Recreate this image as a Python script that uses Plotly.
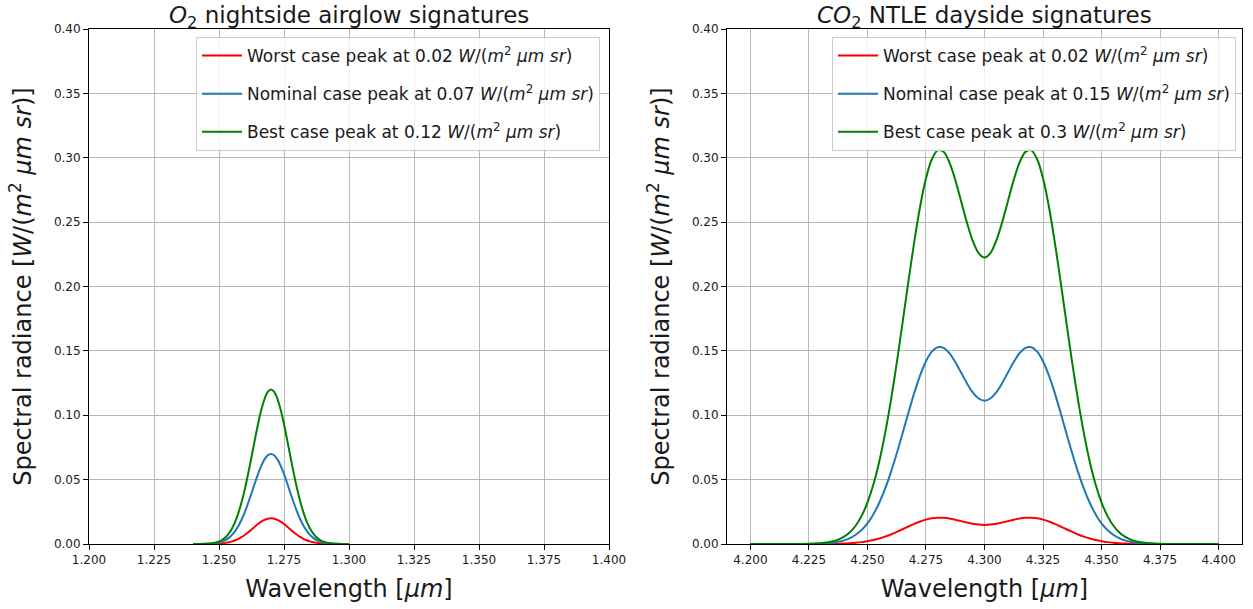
import plotly.graph_objects as go

# O2 airglow band around 1.27 um
o2_wavelength = [1.24, 1.2425, 1.245, 1.2475, 1.25, 1.25125, 1.2525, 1.25375, 1.255, 1.25625,
                 1.2575, 1.25875, 1.26, 1.26125, 1.2625, 1.26375, 1.265, 1.26625, 1.2675, 1.26875,
                 1.27, 1.27125, 1.2725, 1.27375, 1.275, 1.27625, 1.2775, 1.27875, 1.28, 1.28125,
                 1.2825, 1.28375, 1.285, 1.28625, 1.2875, 1.28875, 1.29, 1.2925, 1.295, 1.2975,
                 1.30]
o2_worst = [0.0, 0.00001, 0.00003, 0.00011, 0.00034, 0.00055, 0.00088, 0.00135, 0.00201, 0.00291,
            0.00406, 0.0055, 0.00721, 0.00916, 0.01127, 0.01343, 0.0155, 0.01733, 0.01876, 0.01968,
            0.0200, 0.01968, 0.01876, 0.01733, 0.0155, 0.01343, 0.01127, 0.00916, 0.00721, 0.0055,
            0.00406, 0.00291, 0.00201, 0.00135, 0.00088, 0.00055, 0.00034, 0.00011, 0.00003, 0.00001,
            0.0]
o2_nominal = [0.00001, 0.00003, 0.00012, 0.00040, 0.00118, 0.00194, 0.00308, 0.00473, 0.00705, 0.01017,
              0.0142, 0.01924, 0.0252, 0.03205, 0.0394, 0.04699, 0.0542, 0.06064, 0.0657, 0.06889,
              0.0700, 0.06889, 0.0657, 0.06064, 0.0542, 0.04699, 0.0394, 0.03205, 0.0252, 0.01924,
              0.0142, 0.01017, 0.00705, 0.00473, 0.00308, 0.00194, 0.00118, 0.00040, 0.00012, 0.00003,
              0.00001]
o2_best = [0.00001, 0.00005, 0.0002, 0.00069, 0.00202, 0.00332, 0.00527, 0.00811, 0.0121, 0.01744,
           0.0244, 0.03299, 0.0432, 0.05494, 0.0676, 0.08056, 0.0930, 0.1040, 0.1126, 0.1181,
           0.1200, 0.1181, 0.1126, 0.1040, 0.0930, 0.08056, 0.0676, 0.05494, 0.0432, 0.03299,
           0.0244, 0.01744, 0.0121, 0.00811, 0.00527, 0.00332, 0.00202, 0.00069, 0.0002, 0.00005,
           0.00001]

# CO2 non-LTE emission around 4.3 um (double-peaked)
co2_wavelength = [4.200, 4.205, 4.210, 4.215, 4.220, 4.225, 4.230, 4.2325, 4.235, 4.2375,
                  4.240, 4.2425, 4.245, 4.2475, 4.250, 4.2525, 4.255, 4.2575, 4.260, 4.2625,
                  4.265, 4.2675, 4.270, 4.2725, 4.275, 4.2775, 4.280, 4.2825, 4.285, 4.2875,
                  4.290, 4.2925, 4.295, 4.2975, 4.300, 4.3025, 4.305, 4.3075, 4.310, 4.3125,
                  4.315, 4.3175, 4.320, 4.3225, 4.325, 4.3275, 4.330, 4.3325, 4.335, 4.3375,
                  4.340, 4.3425, 4.345, 4.3475, 4.350, 4.3525, 4.355, 4.3575, 4.360, 4.3625,
                  4.365, 4.3675, 4.370, 4.375, 4.380, 4.385, 4.390, 4.395, 4.400]
co2_worst = [0, 0, 0, 0, 0, 0.00001, 0.00004, 0.00007, 0.00013, 0.00023,
             0.00038, 0.00061, 0.00096, 0.00146, 0.00215, 0.00307, 0.00425, 0.00570, 0.00742, 0.00937,
             0.01146, 0.01360, 0.01565, 0.01747, 0.01893, 0.01992, 0.02038, 0.02030, 0.01976, 0.01885,
             0.01775, 0.01664, 0.01569, 0.01506, 0.01484, 0.01506, 0.01569, 0.01664, 0.01775, 0.01885,
             0.01976, 0.02030, 0.02038, 0.01992, 0.01893, 0.01747, 0.01565, 0.01360, 0.01146, 0.00937,
             0.00742, 0.00570, 0.00425, 0.00307, 0.00215, 0.00146, 0.00096, 0.00061, 0.00038, 0.00023,
             0.00013, 0.00007, 0.00004, 0.00001, 0, 0, 0, 0, 0]
co2_nominal = [0, 0, 0, 0, 0.00002, 0.00008, 0.00030, 0.00056, 0.00099, 0.00170,
               0.00284, 0.00459, 0.00719, 0.01093, 0.01610, 0.02300, 0.03185, 0.04277, 0.05565, 0.07025,
               0.08595, 0.1020, 0.1174, 0.1310, 0.1420, 0.1494, 0.1528, 0.1523, 0.1482, 0.1414,
               0.1332, 0.1248, 0.1177, 0.1130, 0.1113, 0.1130, 0.1177, 0.1248, 0.1332, 0.1414,
               0.1482, 0.1523, 0.1528, 0.1494, 0.1420, 0.1310, 0.1174, 0.1020, 0.08595, 0.07025,
               0.05565, 0.04277, 0.03185, 0.02300, 0.01610, 0.01093, 0.00719, 0.00459, 0.00284, 0.00170,
               0.00099, 0.00056, 0.00030, 0.00008, 0.00002, 0, 0, 0, 0]
co2_best = [0, 0, 0, 0.00001, 0.00004, 0.00017, 0.00061, 0.00111, 0.00198, 0.00340,
            0.00568, 0.00918, 0.01439, 0.02187, 0.03219, 0.04599, 0.06369, 0.08553, 0.1113, 0.1405,
            0.1719, 0.2040, 0.2347, 0.2621, 0.2840, 0.2988, 0.3057, 0.3046, 0.2964, 0.2828,
            0.2663, 0.2496, 0.2354, 0.2259, 0.2225, 0.2259, 0.2354, 0.2496, 0.2663, 0.2828,
            0.2964, 0.3046, 0.3057, 0.2988, 0.2840, 0.2621, 0.2347, 0.2040, 0.1719, 0.1405,
            0.1113, 0.08553, 0.06369, 0.04599, 0.03219, 0.02187, 0.01439, 0.00918, 0.00568, 0.00340,
            0.00198, 0.00111, 0.00061, 0.00017, 0.00004, 0.00001, 0, 0, 0]

UNIT = "<i>W</i>/(<i>m</i><sup>2</sup> <i>μm sr</i>)"
case_names = ["Worst case", "Nominal case", "Best case"]
case_colors = ["#ff0000", "#1f77b4", "#008000"]
o2_peaks = ["0.02", "0.07", "0.12"]
co2_peaks = ["0.02", "0.15", "0.3"]

FONT = "DejaVu Sans"
INK = "#1a1a1a"

fig = go.Figure()

for name, color, peak, ys, grp in zip(case_names, case_colors, o2_peaks,
                                      [o2_worst, o2_nominal, o2_best], ["a", "b", "c"]):
    fig.add_trace(go.Scatter(
        x=o2_wavelength, y=ys, mode="lines",
        line=dict(color=color, width=2, shape="spline", smoothing=0.9),
        name=f"{name} peak at {peak} {UNIT}",
        legend="legend", legendgroup="o2" + grp,
        xaxis="x", yaxis="y"))

for name, color, peak, ys, grp in zip(case_names, case_colors, co2_peaks,
                                      [co2_worst, co2_nominal, co2_best], ["a", "b", "c"]):
    fig.add_trace(go.Scatter(
        x=co2_wavelength, y=ys, mode="lines",
        line=dict(color=color, width=2, shape="spline", smoothing=0.9),
        name=f"{name} peak at {peak} {UNIT}",
        legend="legend2", legendgroup="co2" + grp,
        xaxis="x2", yaxis="y2"))

W, H = 1253, 609
left_dom = [89 / W, 609 / W]
right_dom = [727 / W, 1242 / W]
y_dom = [1 - 544 / H, 1 - 29 / H]

axis_common = dict(
    showline=True, linecolor="black", linewidth=1, mirror=True,
    ticks="outside", ticklen=5, tickwidth=1, tickcolor="black",
    showgrid=True, gridcolor="#b8b8b8", gridwidth=1,
    zeroline=False, automargin=False,
    tickfont=dict(family=FONT, size=12, color=INK),
)

ytitle = dict(text=f"Spectral radiance [{UNIT}]",
              font=dict(family=FONT, size=24, color=INK), standoff=15)
xtitle = dict(text="Wavelength [<i>μm</i>]",
              font=dict(family=FONT, size=24, color=INK), standoff=13)

legend_common = dict(
    xanchor="right", yanchor="top", y=1 - 37 / H,
    bgcolor="rgba(255,255,255,0.8)", bordercolor="#cccccc", borderwidth=1,
    font=dict(family=FONT, size=17, color=INK),
    tracegroupgap=13, itemwidth=40,
)

fig.update_layout(
    width=W, height=H,
    margin=dict(l=0, r=0, t=0, b=0),
    paper_bgcolor="white", plot_bgcolor="white",
    xaxis=dict(domain=left_dom, anchor="y", range=[1.2, 1.4], tick0=1.2, dtick=0.025,
               tickformat=".3f", title=xtitle, **axis_common),
    yaxis=dict(domain=y_dom, anchor="x", range=[0, 0.4], tick0=0, dtick=0.05,
               tickformat=".2f", title=ytitle, **axis_common),
    xaxis2=dict(domain=right_dom, anchor="y2", range=[4.19, 4.41], tick0=4.2, dtick=0.025,
                tickformat=".3f", title=xtitle, **axis_common),
    yaxis2=dict(domain=y_dom, anchor="x2", range=[0, 0.4], tick0=0, dtick=0.05,
                tickformat=".2f", title=ytitle, **axis_common),
    legend=dict(x=600 / W, **legend_common),
    legend2=dict(x=1236 / W, **legend_common),
    annotations=[
        dict(text="<i>O</i><sub>2</sub> nightside airglow signatures",
             x=(left_dom[0] + left_dom[1]) / 2, y=1, xref="paper", yref="paper",
             xanchor="center", yanchor="top", yshift=0, showarrow=False,
             font=dict(family=FONT, size=23, color=INK)),
        dict(text="<i>CO</i><sub>2</sub> NTLE dayside signatures",
             x=(right_dom[0] + right_dom[1]) / 2, y=1, xref="paper", yref="paper",
             xanchor="center", yanchor="top", yshift=0, showarrow=False,
             font=dict(family=FONT, size=23, color=INK)),
    ],
)

fig.write_html("out.html")
